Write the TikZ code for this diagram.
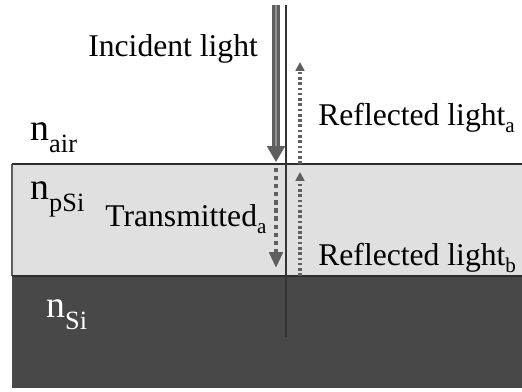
\documentclass[tikz,border=0pt]{standalone}
\usepackage{fontspec}
\setmainfont{Liberation Serif}
\usepackage{tikz}
\usetikzlibrary{
  arrows.meta,
  positioning
}
\definecolor{PorousGray}{RGB}{224, 224, 224}
\definecolor{SiliconGray}{RGB}{72, 72, 72}
\definecolor{RayGray}{RGB}{95, 95, 95}
\definecolor{RayLight}{RGB}{145, 145, 145}
\definecolor{EdgeGray}{RGB}{45, 45, 45}
\newcommand{\nsub}[1]{\raisebox{-0.32em}{\fontsize{15}{17}\selectfont #1}}
\newcommand{\rsub}[1]{\raisebox{-0.22em}{\fontsize{12}{14}\selectfont #1}}
\tikzset{
  raylabel/.style={font=\fontsize{18}{21}\selectfont, inner sep=0pt, anchor=base west},
  indexlabel/.style={font=\fontsize{21.5}{24}\selectfont, inner sep=0pt, anchor=base west},
  incidentray/.style={draw=RayGray, double=RayLight, line width=1.6pt, double distance=0.8pt,
    -{Triangle[length=9pt, width=10pt]}},
  transmittedray/.style={draw=RayGray, line width=2.7pt, dash pattern=on 2.4pt off 2.2pt,
    -{Triangle[length=9pt, width=7.5pt]}},
  reflectedray/.style={draw=RayGray, line width=2pt, dash pattern=on 1.5pt off 1.5pt,
    -{Triangle[length=5pt, width=5pt]}},
}

\begin{document}
\begin{tikzpicture}[x=0.02cm, y=-0.02cm]
  \useasboundingbox (0,0) rectangle (522,392);
  % layers
  \fill[PorousGray] (12,164) rectangle (522,276);
  \fill[SiliconGray] (12,276) rectangle (522,388);
  \draw[RayGray, line width=0.6pt] (12,276) -- (12,164);
  \draw[EdgeGray, line width=1.2pt] (12,164) -- (522,164);
  \draw[EdgeGray, line width=1.2pt] (12,276) -- (522,276);

  \coordinate (normal top) at (286,5);
  \coordinate (normal bottom) at (286,337);
  \coordinate (inc top) at (276,5);
  \coordinate (inc tip) at (276,162);
  \coordinate (trans start) at (276,168);
  \coordinate (trans tip) at (276,268);
  \coordinate (refa start) at (300,164);
  \coordinate (refa tip) at (300,62);
  \coordinate (refb start) at (300,276);
  \coordinate (refb tip) at (300,172);

  \draw[black!80, line width=0.9pt] (normal top) -- (normal bottom);
  \draw[incidentray] (inc top) -- (inc tip);
  \draw[transmittedray] (trans start) -- (trans tip);
  \draw[reflectedray] (refa start) -- (refa tip);
  \draw[reflectedray] (refb start) -- (refb tip);

  \node[raylabel] (incident) at (88,56) {Incident light};
  \node[raylabel] (reflecteda) at (318,126) {Reflected light\rsub{a}};
  \node[raylabel] (transmitted) at (105,227) {Transmitted\rsub{a}};
  \node[raylabel] (reflectedb) at (318,266) {Reflected light\rsub{b}};

  \node[indexlabel] (nair) at (30,140) {n\nsub{air}};
  \node[indexlabel] (npsi) at (30,199) {n\nsub{pSi}};
  \node[indexlabel, text=white] (nsi) at (46,317) {n\nsub{Si}};
\end{tikzpicture}
\end{document}
